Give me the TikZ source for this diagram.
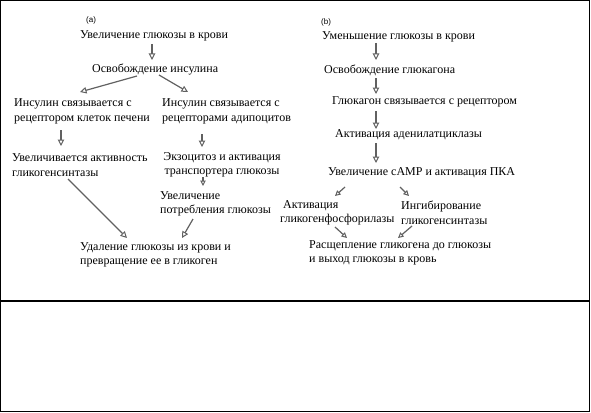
\documentclass[tikz,border=0pt]{standalone}
\usepackage{fontspec}
\setmainfont{Liberation Serif}
\newfontfamily\labfont{Liberation Sans}
\usetikzlibrary{arrows.meta,calc}
\tikzset{
  txt/.style={inner sep=0pt, anchor=west, align=left, font=\fontsize{12}{14.5}\selectfont},
  ctxt/.style={inner sep=0pt, anchor=center, align=center, font=\fontsize{12}{14.5}\selectfont},
  lab/.style={inner sep=0pt, anchor=west, font=\labfont\fontsize{8}{9}\selectfont},
  arr/.style={draw=black!62, line width=1.2pt, -{Triangle[open,length=6.5pt,width=6.5pt,line width=1pt]}},
  sarr/.style={draw=black!62, line width=1.2pt, -{Triangle[open,length=5.5pt,width=5.5pt,line width=1pt]}},
  frame/.style={draw=black, line width=1.4pt}
}
\begin{document}
\begin{tikzpicture}[x=1pt,y=-1pt]
\useasboundingbox (0,0) rectangle (591,412);
\draw[frame] (0.7,0.7) rectangle (589.6,411.3);
\draw[frame] (0.7,301) -- (589.6,301);
% panel (a)
\node[lab] (la) at (86,20) {(a)};
\node[txt] (a1) at (80,36) {Увеличение глюкозы в крови};
\node[txt] (a2) at (92,69) {Освобождение инсулина};
\node[txt] (a3) at (14,111.5) {Инсулин связывается с\\рецептором клеток печени};
\node[txt] (a4) at (162,111.5) {Инсулин связывается с\\рецепторами адипоцитов};
\node[txt] (a5) at (12,165) {Увеличивается активность\\гликогенсинтазы};
\node[ctxt] (a6) at (222,165) {Экзоцитоз и активация\\транспортера глюкозы};
\node[txt] (a7) at (160,204) {Увеличение\\потребления глюкозы};
\node[txt] (a8) at (80,255) {Удаление глюкозы из крови и\\превращение ее в гликоген};
% panel (b)
\node[lab] (lb) at (321,22) {(b)};
\node[txt] (b1) at (322,37) {Уменьшение глюкозы в крови};
\node[txt] (b2) at (324,70) {Освобождение глюкагона};
\node[txt] (b3) at (332,102) {Глюкагон связывается с рецептором};
\node[txt] (b4) at (335,135) {Активация аденилатциклазы};
\node[txt] (b5) at (328,173) {Увеличение cAMP и активация ПКА};
\node[txt] (b6) at (280,213) {\hspace{3pt}Активация\\гликогенфосфорилазы};
\node[txt] (b7) at (401,213) {Ингибирование\\гликогенсинтазы};
\node[txt] (b8) at (309,253) {Расщепление гликогена до глюкозы\\и выход глюкозы в кровь};
% arrows (a)
\draw[arr] ($(a1.west)+(72,8)$) -- ($(a2.west)+(60,-9)$);
\draw[arr] ($(a2.west)+(45,7)$) -- ($(a3.west)+(66,-19.5)$);
\draw[arr] ($(a2.west)+(67,6)$) -- ($(a4.west)+(26,-19.5)$);
\draw[arr] ($(a3.west)+(47,18.5)$) -- ($(a5.west)+(49,-19)$);
\draw[arr] ($(a4.west)+(40,22.5)$) -- ($(a6.center)+(-20,-18)$);
\draw[sarr] ($(a6.center)+(-19,12)$) -- ($(a7.west)+(43,-18)$);
\draw[arr] ($(a5.west)+(56,14)$) -- ($(a8.west)+(47,-17)$);
\draw[arr] ($(a7.west)+(33,15)$) -- ($(a8.west)+(102,-17)$);
% arrows (b)
\draw[arr] ($(b1.west)+(54,6)$) -- ($(b2.west)+(52,-10)$);
\draw[arr] ($(b2.west)+(52,8)$) -- ($(b3.west)+(44,-8)$);
\draw[arr] ($(b3.west)+(44,9)$) -- ($(b4.west)+(41,-6)$);
\draw[arr] ($(b4.west)+(41,8)$) -- ($(b5.west)+(48,-10)$);
\draw[sarr] ($(b5.west)+(17,14)$) -- ($(b6.west)+(55,-17)$);
\draw[sarr] ($(b5.west)+(72,14)$) -- ($(b7.west)+(8,-17)$);
\draw[sarr] ($(b6.west)+(55,14)$) -- ($(b8.west)+(38,-15)$);
\draw[sarr] ($(b7.west)+(11,13)$) -- ($(b8.west)+(89,-15)$);
\end{tikzpicture}
\end{document}
